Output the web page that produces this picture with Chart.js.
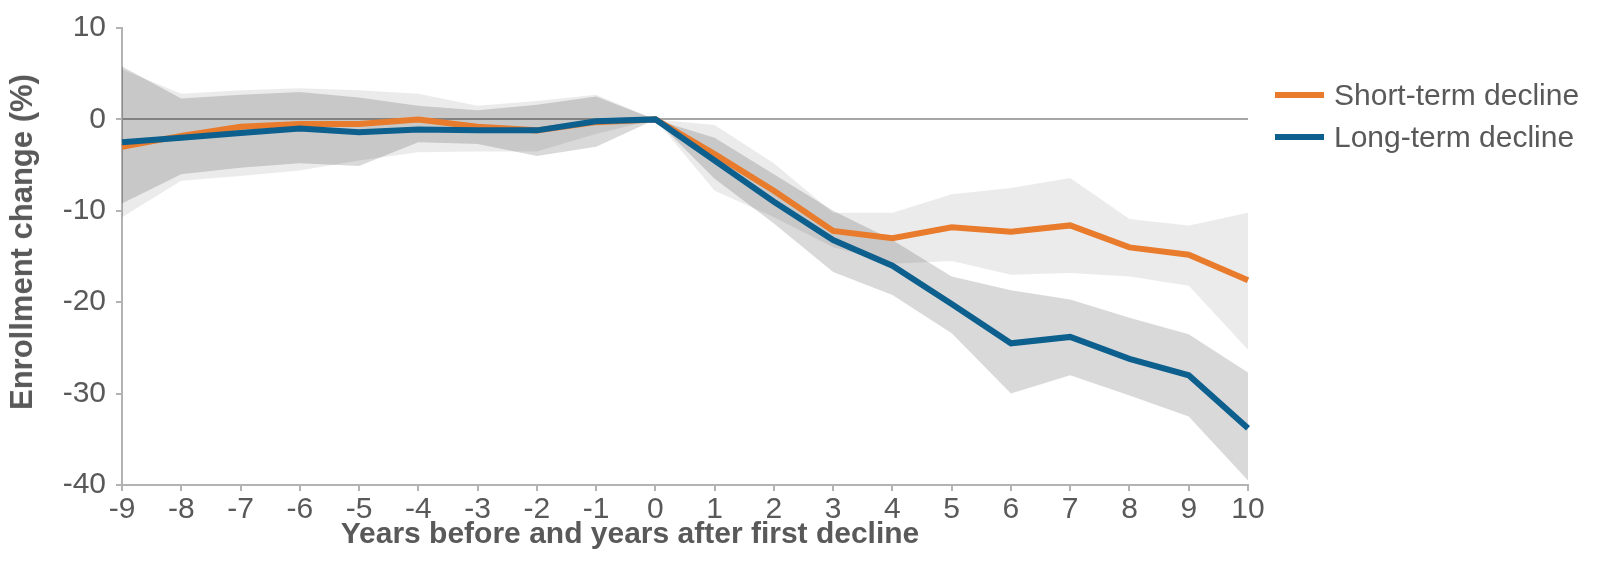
<!DOCTYPE html>
<html>
<head>
<meta charset="utf-8">
<script src="https://cdn.jsdelivr.net/npm/chart.js@4/dist/chart.umd.min.js"></script>
<style>
  html, body { margin: 0; padding: 0; background: #fff; }
  #wrap { position: relative; width: 1597px; height: 576px; font-family: "Liberation Sans", Arial, sans-serif; color: #595959; }
  #legend { position: absolute; left: 1275px; top: 74px; font-size: 30px; }
  .row { display: flex; align-items: center; height: 42px; white-space: nowrap; }
  .swatch { width: 49px; height: 6px; margin-right: 10px; }
  #xtitle { position: absolute; left: 0; width: 1260px; top: 515px; text-align: center; font-size: 30px; font-weight: bold; line-height: 36px; white-space: nowrap; }
  #ytitle { position: absolute; left: 22px; top: 242px; transform: translate(-50%, -50%) rotate(-90deg); font-size: 31px; font-weight: bold; line-height: 36px; white-space: nowrap; }
</style>
</head>
<body>
<div id="wrap">
  <canvas id="chart" width="1597" height="576"></canvas>
  <div id="legend"></div>
  <div id="xtitle">Years before and years after first decline</div>
  <div id="ytitle">Enrollment change (%)</div>
</div>
<script>
const years = ["-9", "-8", "-7", "-6", "-5", "-4", "-3", "-2", "-1", "0", "1", "2", "3", "4", "5", "6", "7", "8", "9", "10"];

const shortTerm = [-3, -1.8, -0.8, -0.5, -0.5, 0, -0.8, -1.2, -0.3, 0, -3.8, -7.8, -12.2, -13, -11.8, -12.3, -11.6, -14, -14.8, -17.6];
const shortUpper = [5.5, 2.8, 3.2, 3.4, 3.2, 2.8, 1.5, 2.0, 2.7, 0, -0.6, -4.8, -10.2, -10.2, -8.2, -7.5, -6.4, -10.9, -11.6, -10.2];
const shortLower = [-10.7, -6.7, -6.2, -5.6, -4.5, -3.6, -3.5, -3.5, -1.6, 0, -7.8, -10.7, -14, -15.8, -15.5, -17, -16.8, -17.2, -18.2, -25.2];

const longTerm = [-2.5, -2, -1.5, -1, -1.4, -1.1, -1.2, -1.2, -0.2, 0, -4.5, -9, -13.2, -16, -20.2, -24.5, -23.8, -26.2, -28, -33.8];
const longUpper = [5.8, 2.3, 2.7, 3.0, 2.4, 1.5, 1.0, 1.6, 2.5, 0, -2, -6, -10, -13.2, -17.2, -18.7, -19.7, -21.7, -23.5, -27.7];
const longLower = [-9.2, -6, -5.3, -4.8, -5.1, -2.5, -2.7, -4, -3, 0, -6.5, -11.4, -16.7, -19.2, -23.4, -30, -28, -30.2, -32.5, -39.5];

const yTicks = [10, 0, -10, -20, -30, -40];

const series = [
  { label: "Short-term decline", color: "#e87b2c" },
  { label: "Long-term decline", color: "#0d5f8e" },
];

const textColor = "#595959";
const axisColor = "#b3b3b3";
const fontFamily = '"Liberation Sans", Arial, sans-serif';

// legend as plain html
const legend = document.getElementById("legend");
series.forEach((s) => {
  const row = document.createElement("div");
  row.className = "row";
  row.innerHTML = `<span class="swatch" style="background:${s.color}"></span><span>${s.label}</span>`;
  legend.appendChild(row);
});

const band = (data, fill, color, order) => ({
  data: data,
  borderWidth: 0,
  pointRadius: 0,
  fill: fill,
  backgroundColor: color,
  tension: 0,
  order: order,
});

new Chart(document.getElementById("chart").getContext("2d"), {
  type: "line",
  data: {
    labels: years,
    datasets: [
      { label: series[0].label, data: shortTerm, borderColor: series[0].color, borderWidth: 6, pointRadius: 0, fill: false, order: 1 },
      { label: series[1].label, data: longTerm, borderColor: series[1].color, borderWidth: 6, pointRadius: 0, fill: false, order: 0 },
      band(shortUpper, "+1", "rgba(0,0,0,0.08)", 3),
      band(shortLower, false, "rgba(0,0,0,0.08)", 3),
      band(longUpper, "+1", "rgba(0,0,0,0.15)", 2),
      band(longLower, false, "rgba(0,0,0,0.15)", 2),
    ],
  },
  options: {
    responsive: false,
    animation: false,
    layout: { padding: { left: 0, top: 22, right: 349, bottom: 0 } },
    plugins: { legend: { display: false }, tooltip: { enabled: false } },
    scales: {
      x: {
        offset: false,
        grid: { display: true, drawOnChartArea: false, tickLength: 6, tickColor: axisColor, lineWidth: 2 },
        border: { display: true, color: axisColor, width: 2 },
        ticks: { color: textColor, font: { family: fontFamily, size: 30 }, padding: 1, maxRotation: 0, autoSkip: false },
        afterFit: (scale) => { scale.height = 91; },
      },
      y: {
        min: -40,
        max: 10,
        afterBuildTicks: (scale) => { scale.ticks = yTicks.map((v) => ({ value: v })); },
        grid: {
          drawOnChartArea: true,
          tickLength: 6,
          tickColor: axisColor,
          lineWidth: 2,
          color: (ctx) => (ctx.tick && ctx.tick.value === 0 ? "#a6a6a6" : "rgba(0,0,0,0)"),
        },
        border: { display: true, color: axisColor, width: 2 },
        ticks: { color: textColor, font: { family: fontFamily, size: 30 }, padding: 10 },
        afterFit: (scale) => { scale.width = 122; },
      },
    },
  },
});
</script>
</body>
</html>
